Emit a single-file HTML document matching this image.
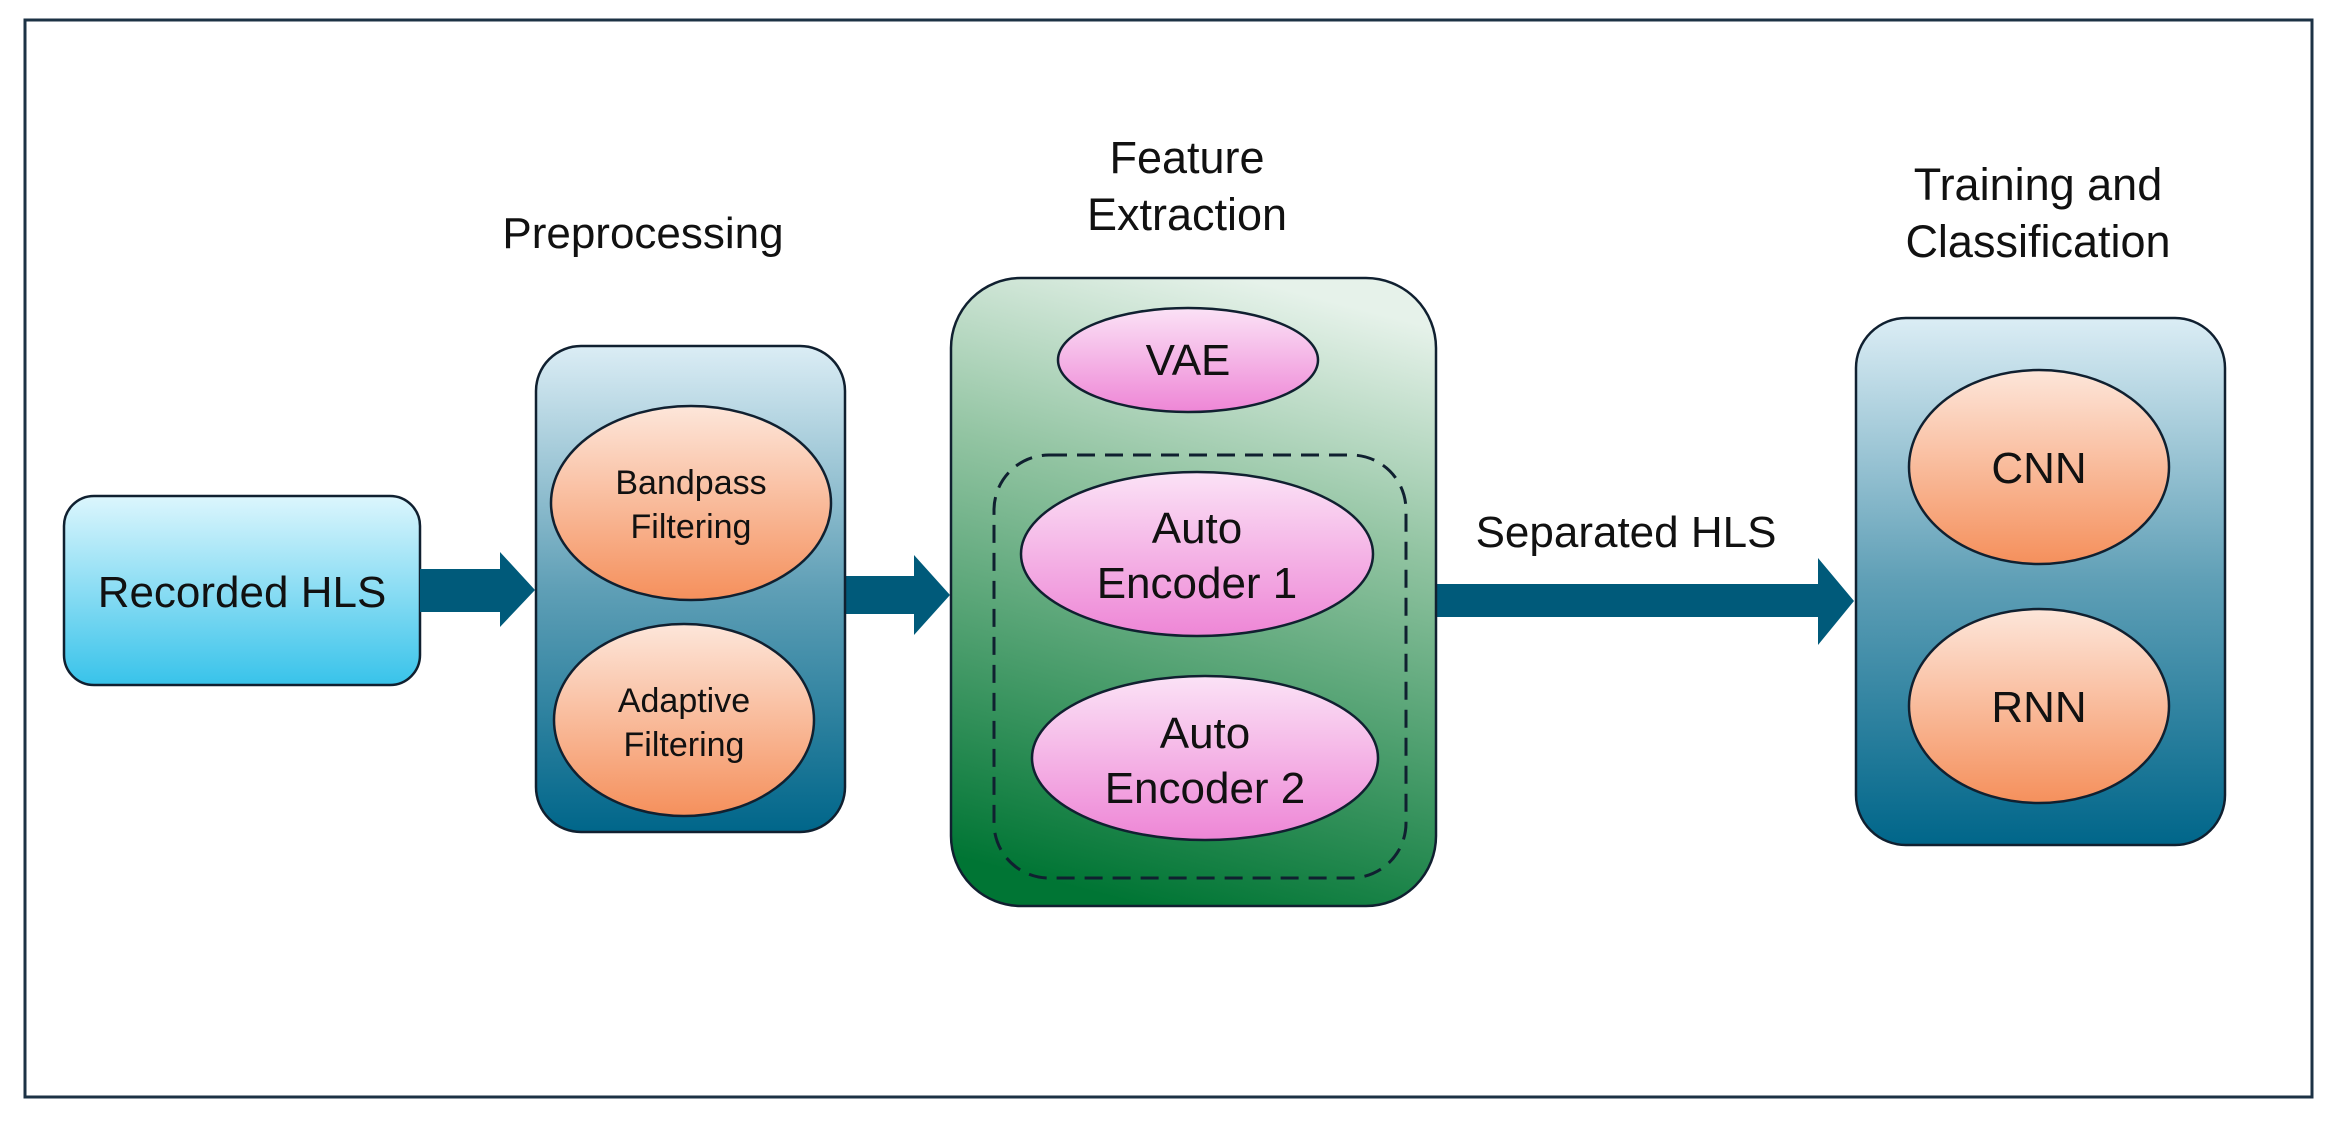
<!DOCTYPE html>
<html><head><meta charset="utf-8"><style>html,body{margin:0;padding:0;background:#fff}svg{display:block}</style></head>
<body>
<svg width="2341" height="1123" viewBox="0 0 2341 1123" xmlns="http://www.w3.org/2000/svg" font-family="Liberation Sans, sans-serif">
<defs>
<linearGradient id="cy" x1="0" y1="0" x2="0" y2="1"><stop offset="0" stop-color="#dcf6fd"/><stop offset="1" stop-color="#38c3ea"/></linearGradient>
<linearGradient id="bl" x1="0" y1="0" x2="0" y2="1"><stop offset="0" stop-color="#dbedf5"/><stop offset="0.5" stop-color="#5f9fb6"/><stop offset="1" stop-color="#00668a"/></linearGradient>
<linearGradient id="gr" x1="0.6" y1="0" x2="0.4" y2="1"><stop offset="0" stop-color="#e6f2ea"/><stop offset="0.35" stop-color="#92c4a2"/><stop offset="1" stop-color="#007534"/></linearGradient>
<linearGradient id="or" x1="0" y1="0" x2="0" y2="1"><stop offset="0" stop-color="#fde6da"/><stop offset="1" stop-color="#f5905c"/></linearGradient>
<linearGradient id="pk" x1="0" y1="0" x2="0" y2="1"><stop offset="0" stop-color="#fbe2f6"/><stop offset="1" stop-color="#ee86d6"/></linearGradient>
</defs>
<rect x="25" y="20" width="2287" height="1077" fill="#fff" stroke="#1c3245" stroke-width="3"/>
<rect x="64" y="496" width="356" height="189" rx="30" fill="url(#cy)" stroke="#102030" stroke-width="2.5"/>
<text x="242" y="607" font-size="44" text-anchor="middle" fill="#111">Recorded HLS</text>
<polygon points="420,569 500,569 500,552 535,590 500,627 500,612 420,612" fill="#005a7a"/>
<polygon points="845,576 914,576 914,555 950,595 914,635 914,614 845,614" fill="#005a7a"/>
<polygon points="1436,584 1818,584 1818,558 1854,601 1818,645 1818,617 1436,617" fill="#005a7a"/>
<text x="643" y="248" font-size="44" text-anchor="middle" fill="#111">Preprocessing</text>
<rect x="536" y="346" width="309" height="486" rx="45" fill="url(#bl)" stroke="#102030" stroke-width="2.5"/>
<ellipse cx="691" cy="503" rx="140" ry="97" fill="url(#or)" stroke="#102030" stroke-width="2.5"/>
<text x="691" y="494" font-size="34" text-anchor="middle" fill="#111">Bandpass</text>
<text x="691" y="538" font-size="34" text-anchor="middle" fill="#111">Filtering</text>
<ellipse cx="684" cy="720" rx="130" ry="96" fill="url(#or)" stroke="#102030" stroke-width="2.5"/>
<text x="684" y="712" font-size="34" text-anchor="middle" fill="#111">Adaptive</text>
<text x="684" y="756" font-size="34" text-anchor="middle" fill="#111">Filtering</text>
<text x="1187" y="173" font-size="45" text-anchor="middle" fill="#111">Feature</text>
<text x="1187" y="230" font-size="45" text-anchor="middle" fill="#111">Extraction</text>
<rect x="951" y="278" width="485" height="628" rx="70" fill="url(#gr)" stroke="#102030" stroke-width="2.5"/>
<ellipse cx="1188" cy="360" rx="130" ry="52" fill="url(#pk)" stroke="#102030" stroke-width="2.5"/>
<text x="1188" y="375" font-size="44" text-anchor="middle" fill="#111">VAE</text>
<rect x="994" y="455" width="412" height="423" rx="55" fill="none" stroke="#102030" stroke-width="3" stroke-dasharray="18,10"/>
<ellipse cx="1197" cy="554" rx="176" ry="82" fill="url(#pk)" stroke="#102030" stroke-width="2.5"/>
<text x="1197" y="543" font-size="44" text-anchor="middle" fill="#111">Auto</text>
<text x="1197" y="598" font-size="44" text-anchor="middle" fill="#111">Encoder 1</text>
<ellipse cx="1205" cy="758" rx="173" ry="82" fill="url(#pk)" stroke="#102030" stroke-width="2.5"/>
<text x="1205" y="748" font-size="44" text-anchor="middle" fill="#111">Auto</text>
<text x="1205" y="803" font-size="44" text-anchor="middle" fill="#111">Encoder 2</text>
<text x="1626" y="547" font-size="44" text-anchor="middle" fill="#111">Separated HLS</text>
<text x="2038" y="200" font-size="45" text-anchor="middle" fill="#111">Training and</text>
<text x="2038" y="257" font-size="45" text-anchor="middle" fill="#111">Classification</text>
<rect x="1856" y="318" width="369" height="527" rx="50" fill="url(#bl)" stroke="#102030" stroke-width="2.5"/>
<ellipse cx="2039" cy="467" rx="130" ry="97" fill="url(#or)" stroke="#102030" stroke-width="2.5"/>
<text x="2039" y="483" font-size="44" text-anchor="middle" fill="#111">CNN</text>
<ellipse cx="2039" cy="706" rx="130" ry="97" fill="url(#or)" stroke="#102030" stroke-width="2.5"/>
<text x="2039" y="722" font-size="44" text-anchor="middle" fill="#111">RNN</text>
</svg>
</body></html>
